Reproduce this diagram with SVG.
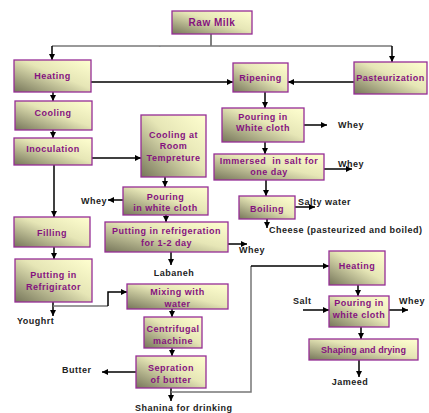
<svg xmlns="http://www.w3.org/2000/svg" width="429" height="413" viewBox="0 0 429 413">
<defs>
<linearGradient id="g" x1="1" y1="0" x2="0" y2="1">
<stop offset="0" stop-color="#ffffd0"/>
<stop offset="0.45" stop-color="#e6e6b6"/>
<stop offset="1" stop-color="#76765a"/>
</linearGradient>
<marker id="a" markerWidth="6" markerHeight="6" refX="6" refY="3" orient="auto" markerUnits="userSpaceOnUse">
<path d="M0,0 L6,3 L0,6 z" fill="#000"/>
</marker>
<style>
.b{fill:url(#g);stroke:#962d96;stroke-width:1.3}
.t{font-family:"Liberation Sans",Arial,sans-serif;font-weight:bold;font-size:9px;letter-spacing:0.5px;fill:#85127f;text-anchor:middle}
.l{font-family:"Liberation Sans",Arial,sans-serif;font-weight:bold;font-size:9px;letter-spacing:0.5px;fill:#222}
.c{stroke:#000;stroke-width:1.5;fill:none}
.ca{stroke:#000;stroke-width:1.5;fill:none;marker-end:url(#a)}
.gr{stroke:#777;stroke-width:1.5;fill:none}
</style>
</defs>
<g id="connectors">
<line x1="211" y1="34" x2="211" y2="46" stroke="#000" stroke-width="1"/>
<line class="gr" x1="52" y1="46" x2="392" y2="46"/>
<line class="ca" x1="52" y1="46" x2="52" y2="60"/>
<line class="ca" x1="392" y1="46" x2="392" y2="62"/>
<line class="ca" x1="91" y1="82" x2="233" y2="82"/>
<line class="ca" x1="354" y1="82" x2="288" y2="82"/>
<line class="ca" x1="265" y1="92" x2="265" y2="108"/>
<line class="ca" x1="304" y1="125" x2="327" y2="125"/>
<line class="ca" x1="265" y1="142" x2="265" y2="154"/>
<line class="ca" x1="324" y1="169" x2="352" y2="169"/>
<line class="ca" x1="266" y1="180" x2="266" y2="196"/>
<line class="ca" x1="295" y1="207" x2="315" y2="207"/>
<line class="ca" x1="267" y1="219" x2="267" y2="228"/>
<line class="ca" x1="53" y1="92" x2="53" y2="101"/>
<line class="ca" x1="53" y1="130" x2="53" y2="138"/>
<line class="ca" x1="92" y1="158" x2="141" y2="158"/>
<line class="ca" x1="54" y1="165" x2="54" y2="217"/>
<line class="ca" x1="165" y1="177" x2="165" y2="187"/>
<line class="ca" x1="123" y1="200" x2="108" y2="200"/>
<line class="ca" x1="166" y1="215" x2="166" y2="222"/>
<line class="ca" x1="228" y1="244" x2="247" y2="244"/>
<line class="ca" x1="171" y1="252" x2="171" y2="265"/>
<line class="ca" x1="54" y1="247" x2="54" y2="259"/>
<line class="ca" x1="53" y1="302" x2="53" y2="316"/>
<polyline class="gr" points="53,306 108,306"/>
<polyline class="ca" points="108,306 108,292 127,292"/>
<line class="ca" x1="172" y1="309" x2="172" y2="317"/>
<line class="ca" x1="172" y1="348" x2="172" y2="356"/>
<line class="ca" x1="136" y1="372" x2="102" y2="372"/>
<line class="ca" x1="171" y1="388" x2="171" y2="401"/>
<polyline class="gr" points="171,392 251,392 251,266"/>
<line class="ca" x1="251" y1="266" x2="329" y2="266"/>
<line class="ca" x1="358" y1="285" x2="358" y2="296"/>
<line class="ca" x1="303" y1="310" x2="329" y2="310"/>
<line class="ca" x1="389" y1="310" x2="408" y2="310"/>
<line class="ca" x1="361" y1="327" x2="361" y2="339"/>
<line class="ca" x1="359" y1="360" x2="359" y2="377"/>
</g>
<g id="rawmilk"><rect class="b" x="172" y="11" width="80" height="23"/><text class="t" x="212" y="26" style="font-size:10px">Raw Milk</text></g>
<g id="heating"><rect class="b" x="14" y="60" width="77" height="32"/><text class="t" x="52.5" y="79">Heating</text></g>
<g id="ripening"><rect class="b" x="233" y="63" width="55" height="29"/><text class="t" x="260.5" y="81">Ripening</text></g>
<g id="pasteurization"><rect class="b" x="354" y="62" width="73" height="32"/><text class="t" x="390.5" y="81">Pasteurization</text></g>
<g id="pouring1"><rect class="b" x="222" y="108" width="82" height="34"/><text class="t" x="263" y="120">Pouring in</text><text class="t" x="263" y="131">White cloth</text></g>
<g id="immersed"><rect class="b" x="214" y="154" width="110" height="26"/><text class="t" x="269" y="164" xml:space="preserve">Immersed  in salt for</text><text class="t" x="269" y="175">one day</text></g>
<g id="boiling"><rect class="b" x="239" y="196" width="56" height="23"/><text class="t" x="267" y="212">Boiling</text></g>
<g id="cooling"><rect class="b" x="15" y="101" width="77" height="29"/><text class="t" x="53" y="116">Cooling</text></g>
<g id="inoculation"><rect class="b" x="14" y="138" width="78" height="27"/><text class="t" x="53" y="152">Inoculation</text></g>
<g id="coolingroom"><rect class="b" x="141" y="115" width="65" height="62"/><text class="t" x="173.5" y="138">Cooling at</text><text class="t" x="173.5" y="149">Room</text><text class="t" x="173.5" y="161">Tempreture</text></g>
<g id="pouring2"><rect class="b" x="123" y="187" width="85" height="28"/><text class="t" x="165.5" y="200">Pouring</text><text class="t" x="165.5" y="211">in white cloth</text></g>
<g id="refrigeration"><rect class="b" x="105" y="222" width="123" height="30"/><text class="t" x="166.5" y="234">Putting in refrigeration</text><text class="t" x="166.5" y="246">for 1-2 day</text></g>
<g id="filling"><rect class="b" x="14" y="217" width="76" height="30"/><text class="t" x="52" y="236">Filling</text></g>
<g id="refrigirator"><rect class="b" x="15" y="259" width="77" height="43"/><text class="t" x="53.5" y="278">Putting in</text><text class="t" x="53.5" y="290">Refrigirator</text></g>
<g id="mixing"><rect class="b" x="127" y="284" width="101" height="25"/><text class="t" x="177.5" y="295">Mixing with</text><text class="t" x="177.5" y="307">water</text></g>
<g id="centrifugal"><rect class="b" x="144" y="317" width="58" height="31"/><text class="t" x="173" y="332">Centrifugal</text><text class="t" x="173" y="344">machine</text></g>
<g id="sepration"><rect class="b" x="136" y="356" width="70" height="32"/><text class="t" x="171" y="371">Sepration</text><text class="t" x="171" y="383">of butter</text></g>
<g id="heating2"><rect class="b" x="329" y="251" width="56" height="34"/><text class="t" x="357" y="269">Heating</text></g>
<g id="pouring3"><rect class="b" x="329" y="296" width="60" height="31"/><text class="t" x="359" y="306">Pouring in</text><text class="t" x="359" y="318">white cloth</text></g>
<g id="shaping"><rect class="b" x="309" y="339" width="109" height="21"/><text class="t" x="363.5" y="353" style="letter-spacing:0.05px">Shaping and drying</text></g>
<g id="labels">
<text class="l" x="159" y="50" style="font-size:5px;fill:#777">`</text>
<text class="l" x="338" y="128">Whey</text>
<text class="l" x="338" y="167">Whey</text>
<text class="l" x="298" y="205">Salty water</text>
<text class="l" x="269" y="233">Cheese (pasteurized and boiled)</text>
<text class="l" x="107" y="204" text-anchor="end">Whey</text>
<text class="l" x="239" y="253">Whey</text>
<text class="l" x="174" y="276" text-anchor="middle">Labaneh</text>
<text class="l" x="17" y="324">Youghrt</text>
<text class="l" x="62" y="373">Butter</text>
<text class="l" x="135" y="411">Shanina for drinking</text>
<text class="l" x="293" y="304">Salt</text>
<text class="l" x="399" y="304">Whey</text>
<text class="l" x="350" y="385" text-anchor="middle">Jameed</text>
</g>
</svg>
